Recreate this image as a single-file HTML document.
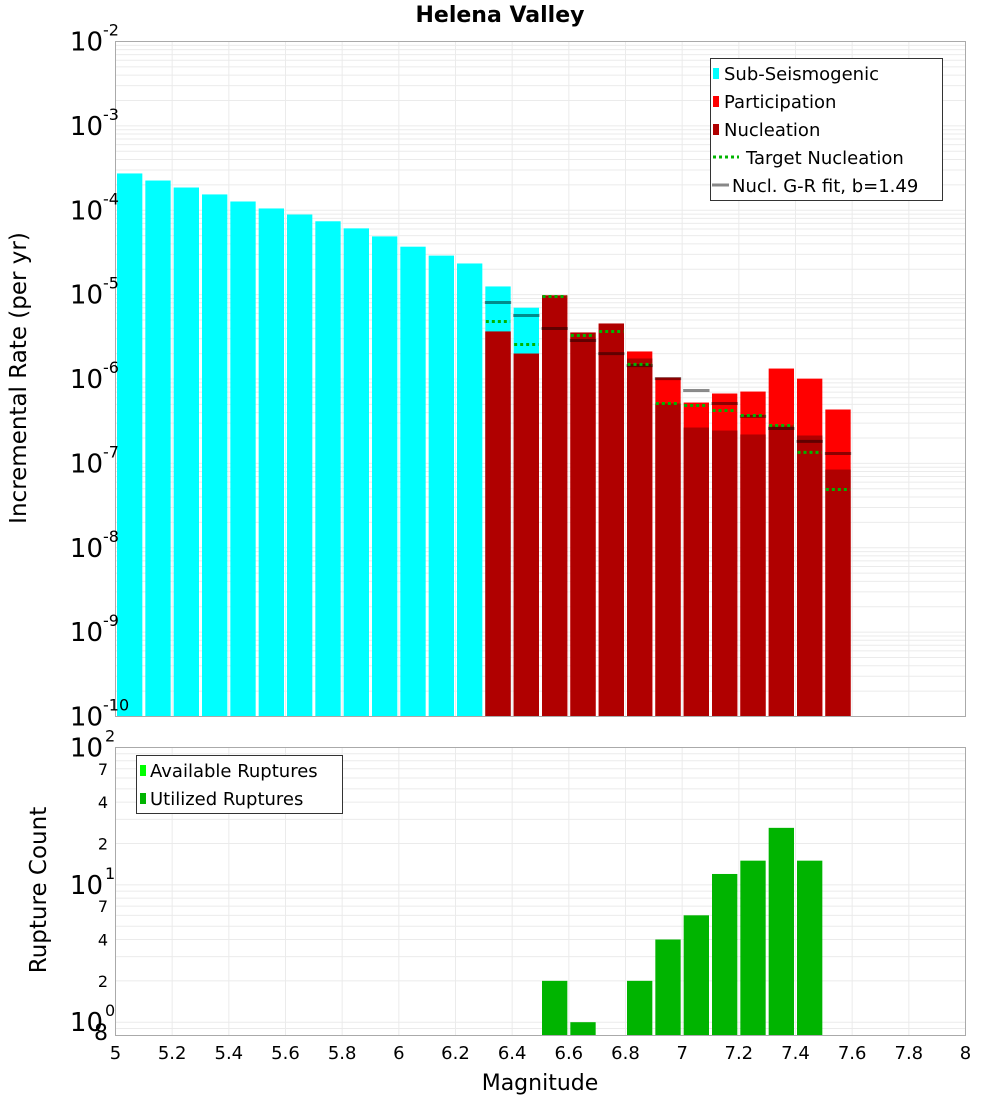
<!DOCTYPE html>
<html><head><meta charset="utf-8"><style>
body{margin:0;background:#fff;}
svg{display:block;font-family:"DejaVu Sans","Liberation Sans",sans-serif;}
</style></head><body>
<svg id="chart" width="1000" height="1100" xmlns="http://www.w3.org/2000/svg">
<text x="500" y="22" text-anchor="middle" font-size="22" font-weight="bold">Helena Valley</text>
<g id="topPlot"></g>
<g id="botPlot"></g>
<text transform="translate(26,378) rotate(-90)" text-anchor="middle" font-size="23">Incremental Rate (per yr)</text>
<text transform="translate(46,890) rotate(-90)" text-anchor="middle" font-size="23">Rupture Count</text>
<text x="540" y="1090" text-anchor="middle" font-size="22">Magnitude</text>
</svg>
<script>
const subMags=[5.0,5.1,5.2,5.3,5.4,5.5,5.6,5.7,5.8,5.9,6.0,6.1,6.2,6.3,6.4];
const subRates=[2.73e-4,2.25e-4,1.86e-4,1.54e-4,1.27e-4,1.05e-4,8.9e-5,7.4e-5,6.1e-5,4.9e-5,3.7e-5,2.9e-5,2.34e-5,1.25e-5,7.0e-6];
const faultMags=[6.3,6.4,6.5,6.6,6.7,6.8,6.9,7.0,7.1,7.2,7.3,7.4,7.5];
const partRates=[3.66e-6,2.0e-6,9.8e-6,3.56e-6,4.55e-6,2.12e-6,1.04e-6,5.26e-7,6.73e-7,7.1e-7,1.33e-6,1.01e-6,4.35e-7];
const nuclRates=[3.66e-6,2.0e-6,9.8e-6,3.56e-6,4.55e-6,1.75e-6,5.13e-7,2.66e-7,2.45e-7,2.2e-7,2.81e-7,2.14e-7,8.45e-8];
const targetRates=[4.8e-6,2.56e-6,9.5e-6,3.28e-6,3.66e-6,1.49e-6,5.13e-7,4.85e-7,4.24e-7,3.69e-7,2.81e-7,1.35e-7,4.9e-8];
const grRates=[8.07e-6,5.66e-6,3.97e-6,2.86e-6,2.0e-6,1.44e-6,1.01e-6,7.3e-7,5.13e-7,3.6e-7,2.59e-7,1.82e-7,1.31e-7];
const countMags=[6.5,6.6,6.8,6.9,7.0,7.1,7.2,7.3,7.4];
const countValues=[2,1,2,4,6,12,15,26,15];
const xTicks=["5","5.2","5.4","5.6","5.8","6","6.2","6.4","6.6","6.8","7","7.2","7.4","7.6","7.8","8"];

const NS="http://www.w3.org/2000/svg";
function mk(parent,tag,attrs,text){const e=document.createElementNS(NS,tag);for(const k in attrs)e.setAttribute(k,attrs[k]);if(text!==undefined)e.textContent=text;parent.appendChild(e);return e;}
const X0=115.5,X1=965.5;
const xS=m=>X0+(m-5)/3*(X1-X0);
const T0=41.5,T1=716.5;
const yT=v=>T0+(-2-Math.log10(v))/8*(T1-T0);
const B0=747.5,B1=1035.5;
const lb=Math.log10(0.8);
const yB=v=>B0+(2-Math.log10(v))/(2-lb)*(B1-B0);

const topG=document.getElementById('topPlot'),botG=document.getElementById('botPlot');
function grid(g,y0,y1,yf,dmin,dmax){
  for(let d=dmin;d<dmax;d++)for(let k=1;k<10;k++){const v=k*Math.pow(10,d);const yy=yf(v);if(yy<y0-0.1||yy>y1+0.1)continue;
    const l=mk(g,'line',{x1:X0,x2:X1,y1:yy,y2:yy,stroke:'#ebebeb','stroke-width':1});
    
    }
  xTicks.forEach(t=>{const xx=xS(+t);const l=mk(g,'line',{x1:xx,x2:xx,y1:y0,y2:y1,stroke:'#ebebeb','stroke-width':1});
    
    });
}
grid(topG,T0,T1,yT,-10,-1);
grid(botG,B0,B1,yB,-1,2);
const bw=(xS(5.1)-xS(5));
function bar(g,m,v,yf,base,fill,name){
  const yy=yf(v);const r=mk(g,'rect',{x:xS(m)+1.5,y:yy,width:bw-3,height:base-yy,fill:fill});
  
  
}
subMags.forEach((m,i)=>bar(topG,m,subRates[i],yT,T1,'#00ffff','sub-seismogenic-bar'));
faultMags.forEach((m,i)=>bar(topG,m,partRates[i],yT,T1,'#ff0000','participation-bar'));
faultMags.forEach((m,i)=>bar(topG,m,nuclRates[i],yT,T1,'#b00000','nucleation-bar'));
faultMags.forEach((m,i)=>{const yy=yT(grRates[i]);const l=mk(topG,'line',{x1:xS(m)+1,x2:xS(m)+bw-1,y1:yy,y2:yy,stroke:'rgba(0,0,0,0.45)','stroke-width':3});
  
  });
faultMags.forEach((m,i)=>{const yy=yT(targetRates[i]);const l=mk(topG,'line',{x1:xS(m)+2,x2:xS(m)+bw-2,y1:yy,y2:yy,stroke:'#00b400','stroke-width':3,'stroke-dasharray':'3,3'});
  
  });
countMags.forEach((m,i)=>bar(botG,m,countValues[i],yB,B1,'#00b400','utilized-ruptures-bar'));
mk(topG,'rect',{x:X0,y:T0,width:X1-X0,height:T1-T0,fill:'none',stroke:'#aaa','stroke-width':1});
mk(botG,'rect',{x:X0,y:B0,width:X1-X0,height:B1-B0,fill:'none',stroke:'#aaa','stroke-width':1});
for(let d=-2;d>=-10;d--){const yy=yT(Math.pow(10,d));
  const t=mk(topG,'text',{x:103,y:yy+9,'text-anchor':'end','font-size':26},'10');
  
  
  const s=mk(topG,'text',{x:103,y:yy-6,'font-size':16},String(d));
  
  }
[2,1,0].forEach(d=>{const yy=yB(Math.pow(10,d));
  const t=mk(botG,'text',{x:103,y:yy+9,'text-anchor':'end','font-size':26},'10');
  
  
  const s=mk(botG,'text',{x:105,y:yy-6,'font-size':16},String(d));
  
  });
[[70,'7'],[40,'4'],[20,'2'],[7,'7'],[4,'4'],[2,'2']].forEach(([v,s])=>{const t=mk(botG,'text',{x:108,y:yB(v)+6,'text-anchor':'end','font-size':16},s);
  
  });
{const t=mk(botG,'text',{x:108,y:1040,'text-anchor':'end','font-size':22},'8');
  
  }
xTicks.forEach(s=>{const t=mk(botG,'text',{x:xS(+s),y:1059,'text-anchor':'middle','font-size':18},s);
  
  });
const lg=mk(topG,'g',{});


mk(lg,'rect',{x:710.5,y:58.5,width:232,height:142,fill:'#fff',stroke:'#333','stroke-width':1});
[['#00ffff','Sub-Seismogenic'],['#ff0000','Participation'],['#b00000','Nucleation']].forEach(([c,s],i)=>{
  const yy=73+i*28;const e=mk(lg,'g',{});
  
  
  mk(e,'rect',{x:713,y:yy-5,width:6,height:11,fill:c});
  mk(e,'text',{x:724,y:yy+7,'font-size':18},s);});
{const e=mk(lg,'g',{});
 
 
 mk(e,'line',{x1:713,x2:739,y1:157,y2:157,stroke:'#00b400','stroke-width':3,'stroke-dasharray':'3,3'});
 mk(e,'text',{x:746,y:164,'font-size':18},'Target Nucleation');}
{const e=mk(lg,'g',{});
 
 
 mk(e,'line',{x1:712,x2:729,y1:185,y2:185,stroke:'#888','stroke-width':3});
 mk(e,'text',{x:732,y:192,'font-size':18},'Nucl. G-R fit, b=1.49');}
const bl=mk(botG,'g',{});


mk(bl,'rect',{x:136.5,y:755.5,width:206,height:58,fill:'#fff',stroke:'#333','stroke-width':1});
[['#00ff00','Available Ruptures'],['#00b400','Utilized Ruptures']].forEach(([c,s],i)=>{
  const yy=770+i*28;const e=mk(bl,'g',{});
  
  
  mk(e,'rect',{x:140,y:yy-5,width:6,height:11,fill:c});
  mk(e,'text',{x:150,y:yy+7,'font-size':18},s);});
</script>
</body></html>
